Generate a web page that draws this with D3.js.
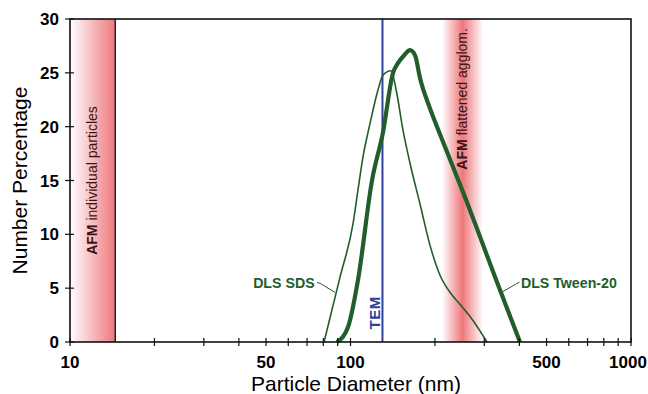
<!DOCTYPE html>
<html>
<head>
<meta charset="utf-8">
<script src="https://cdn.jsdelivr.net/npm/d3@7"></script>
<style>
  body { margin: 0; background: #fff; }
  text { font-family: Arial, "Liberation Sans", sans-serif; }
</style>
</head>
<body>
<div id="chart"></div>
<script>
// particle diameter (nm) vs number percentage
const sdsDiameter = [80.5, 91.7, 102.1, 106.3, 110.8, 117.4, 125.3, 130.6, 139.4, 146, 153.8, 163, 177, 192, 208.5, 228, 245.6, 273.3, 306.6];
const sdsPercent  = [0, 6.0, 11.0, 14.1, 17.2, 20.3, 23.4, 24.8, 25.2, 23.2, 19.7, 16.6, 12.8, 9.0, 6.2, 4.5, 3.5, 2.0, 0];

const tweenDiameter = [89.5, 98, 106.4, 119.3, 130.6, 141.8, 147.6, 155, 163, 170, 177, 192, 208.5, 252, 341.5, 402];
const tweenPercent  = [0, 1.4, 5.8, 15.0, 19.5, 25.0, 25.9, 26.6, 27.1, 26.6, 24.5, 21.7, 19.3, 13.9, 4.8, 0];

const temDiameter = 130;
const afmIndividual = [10, 14.5];
const afmAgglom = [212, 297];

const xTicks = [10, 50, 100, 500, 1000];
const xMinorTicks = [20, 30, 40, 60, 70, 80, 90, 200, 300, 400, 600, 700, 800, 900];
const yTicks = [0, 5, 10, 15, 20, 25, 30];

const W = 648, H = 394;
const margin = {top: 19, right: 17, bottom: 52, left: 70};
const green = "#215e2b", blue = "#2f419c", red = "#ee777c";

let svg = d3.select("#chart").append("svg")
    .attr("width", W)
    .attr("height", H);

let x = d3.scaleLog().domain([10, 1000]).range([margin.left, W - margin.right]);
let y = d3.scaleLinear().domain([0, 30]).range([H - margin.bottom, margin.top]);

// gradients for the AFM bands
let defs = svg.append("defs");
let g1 = defs.append("linearGradient").attr("id", "afm1");
g1.append("stop").attr("offset", "0%").attr("stop-color", "#fff");
g1.append("stop").attr("offset", "100%").attr("stop-color", red);
let g2 = defs.append("linearGradient").attr("id", "afm2");
g2.append("stop").attr("offset", "0%").attr("stop-color", "#fff");
g2.append("stop").attr("offset", "50%").attr("stop-color", red);
g2.append("stop").attr("offset", "100%").attr("stop-color", "#fff");

svg.append("rect")
    .attr("x", x(afmIndividual[0])).attr("y", y(30))
    .attr("width", x(afmIndividual[1]) - x(afmIndividual[0]))
    .attr("height", y(0) - y(30))
    .attr("fill", "url(#afm1)");
svg.append("line")
    .attr("x1", x(afmIndividual[1])).attr("x2", x(afmIndividual[1]))
    .attr("y1", y(30)).attr("y2", y(0))
    .attr("stroke", "#222").attr("stroke-width", 1.5);

svg.append("rect")
    .attr("x", x(afmAgglom[0])).attr("y", y(30))
    .attr("width", x(afmAgglom[1]) - x(afmAgglom[0]))
    .attr("height", y(0) - y(30))
    .attr("fill", "url(#afm2)");

// TEM line
svg.append("line")
    .attr("x1", x(temDiameter)).attr("x2", x(temDiameter))
    .attr("y1", y(30)).attr("y2", y(0))
    .attr("stroke", blue).attr("stroke-width", 2);

// curves
let line = d3.line()
    .x(d => x(d[0]))
    .y(d => y(d[1]))
    .curve(d3.curveMonotoneX);

svg.append("path")
    .datum(d3.zip(sdsDiameter, sdsPercent))
    .attr("d", line)
    .attr("fill", "none")
    .attr("stroke", green)
    .attr("stroke-width", 1.6);

svg.append("path")
    .datum(d3.zip(tweenDiameter, tweenPercent))
    .attr("d", line)
    .attr("fill", "none")
    .attr("stroke", green)
    .attr("stroke-width", 4.2)
    .attr("stroke-linejoin", "round");

// frame
svg.append("rect")
    .attr("x", x(10)).attr("y", y(30))
    .attr("width", x(1000) - x(10))
    .attr("height", y(0) - y(30))
    .attr("fill", "none")
    .attr("stroke", "#111")
    .attr("stroke-width", 1.6);

// x axis ticks (cross the axis)
svg.selectAll("line.xtick")
    .data(xTicks.concat(xMinorTicks))
    .enter().append("line")
    .attr("x1", d => x(d)).attr("x2", d => x(d))
    .attr("y1", y(0) - 4).attr("y2", y(0) + 4)
    .attr("stroke", "#111").attr("stroke-width", 1.2);

svg.selectAll("text.xlab")
    .data(xTicks)
    .enter().append("text")
    .attr("x", d => d === 1000 ? x(d) - 3 : x(d))
    .attr("y", y(0) + 26)
    .style("text-anchor", "middle")
    .style("font-size", "17px")
    .style("font-weight", "bold")
    .text(d => d);

// y axis ticks
svg.selectAll("line.ytick")
    .data(yTicks)
    .enter().append("line")
    .attr("x1", x(10) - 5).attr("x2", x(10) + 4)
    .attr("y1", d => y(d)).attr("y2", d => y(d))
    .attr("stroke", "#111").attr("stroke-width", 1.2);

svg.selectAll("text.ylab")
    .data(yTicks)
    .enter().append("text")
    .attr("x", x(10) - 11)
    .attr("y", d => y(d) + 6)
    .style("text-anchor", "end")
    .style("font-size", "17px")
    .style("font-weight", "bold")
    .text(d => d);

// axis titles
svg.append("text")
    .attr("transform", `translate(27, ${(y(0) + y(30)) / 2}) rotate(-90)`)
    .style("text-anchor", "middle")
    .style("font-size", "21px")
    .text("Number Percentage");

svg.append("text")
    .attr("x", 356)
    .attr("y", H - 3)
    .style("text-anchor", "middle")
    .style("font-size", "21px")
    .text("Particle Diameter (nm)");

// annotations
let afm1 = svg.append("text")
    .attr("transform", `translate(${x(12.1) + 4}, ${y(15)}) rotate(-90)`)
    .style("text-anchor", "middle")
    .style("font-size", "14px")
    .attr("fill", "#3a1414");
afm1.append("tspan").style("font-weight", "bold").text("AFM");
afm1.append("tspan").text(" individual particles");

let afm2 = svg.append("text")
    .attr("transform", `translate(${x(250) + 5}, ${y(16)}) rotate(-90)`)
    .style("text-anchor", "start")
    .style("font-size", "14px")
    .attr("fill", "#3a1414");
afm2.append("tspan").style("font-weight", "bold").text("AFM");
afm2.append("tspan").text(" flattened agglom.");

svg.append("text")
    .attr("transform", `translate(${x(temDiameter) - 2.5}, ${y(2.7)}) rotate(-90)`)
    .style("text-anchor", "middle")
    .style("font-size", "15px")
    .style("font-weight", "bold")
    .style("letter-spacing", "0.5px")
    .attr("fill", blue)
    .text("TEM");

// DLS labels with leader lines
svg.append("text")
    .attr("x", x(74.5)).attr("y", y(5.5) + 5)
    .style("text-anchor", "end")
    .style("font-size", "14.2px")
    .style("font-weight", "bold")
    .attr("fill", green)
    .text("DLS SDS");
svg.append("polyline")
    .attr("points", [[x(76), y(5.55)], [x(78.5), y(5.4)], [x(88.1), y(4.6)]].join(" "))
    .attr("fill", "none").attr("stroke", green).attr("stroke-width", 1);

svg.append("text")
    .attr("x", x(405)).attr("y", y(5.5) + 5)
    .style("text-anchor", "start")
    .style("font-size", "14.2px")
    .style("font-weight", "bold")
    .attr("fill", green)
    .text("DLS Tween-20");
svg.append("polyline")
    .attr("points", [[x(400), y(5.55)], [x(390), y(5.4)], [x(345), y(4.6)]].join(" "))
    .attr("fill", "none").attr("stroke", green).attr("stroke-width", 1);
</script>
</body>
</html>
